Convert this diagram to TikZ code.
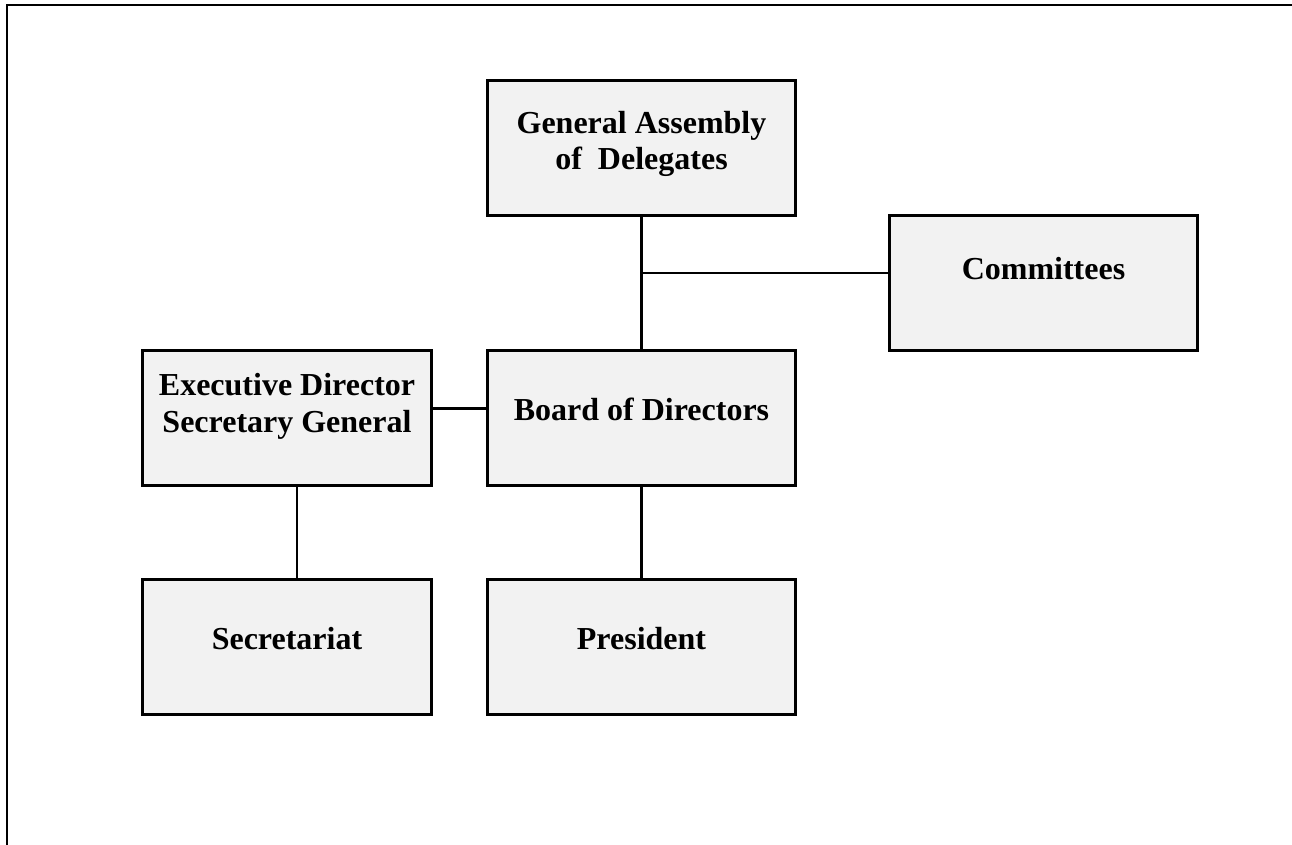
\documentclass[tikz,border=0pt]{standalone}
\usepackage{fontspec}
\setmainfont{Liberation Serif}
\usetikzlibrary{positioning, calc}
\definecolor{boxgray}{RGB}{242,242,242}

\begin{document}
\begin{tikzpicture}[x=0.75pt, y=-0.75pt, node distance=70.5pt,
    unit/.style={rectangle, draw, line width=1.8pt, fill=boxgray, outer sep=0pt,
        minimum width=231pt, minimum height=101.25pt, align=center,
        font=\fontsize{24}{27.5}\selectfont\bfseries},
    link/.style={line width=1.6pt}]
    \useasboundingbox (0,0) rectangle (1292,844);
    \draw[line width=2pt] (7,900) -- (7,5) -- (1350,5);

    \node (board) at (641.5,418) [unit, text depth=13.5pt] {Board of Directors};
    \node (ga) [above=101.25pt of board, unit, text depth=11.5pt] {General Assembly\\of\ \ Delegates};
    \node (cmte) [above right=0pt and 70.5pt of board, unit, text depth=21.8pt] {Committees};
    \node (exec) [left=42pt of board, unit, minimum width=216.75pt, text depth=23pt] {Executive Director\\Secretary General};

    \node (sec) [below=of exec, unit, minimum width=216.75pt, text depth=12.8pt] {Secretariat};
    \node (pres) [below=of board, unit, text depth=12.8pt] {President};

    \coordinate (tap) at ($(ga.south)!0.425!(board.north)$);
    \coordinate (bdl) at ($(board.north west)!0.43!(board.south west)$);

    \draw[link] (ga) -- (board);
    \draw[link] (tap) -- (tap -| cmte.west);
    \draw[link] (exec.east |- bdl) -- (bdl);
    \draw[link] ([xshift=7.5pt]exec.south) -- ([xshift=7.5pt]sec.north);
    \draw[link] (board) -- (pres);

\end{tikzpicture}
\end{document}
